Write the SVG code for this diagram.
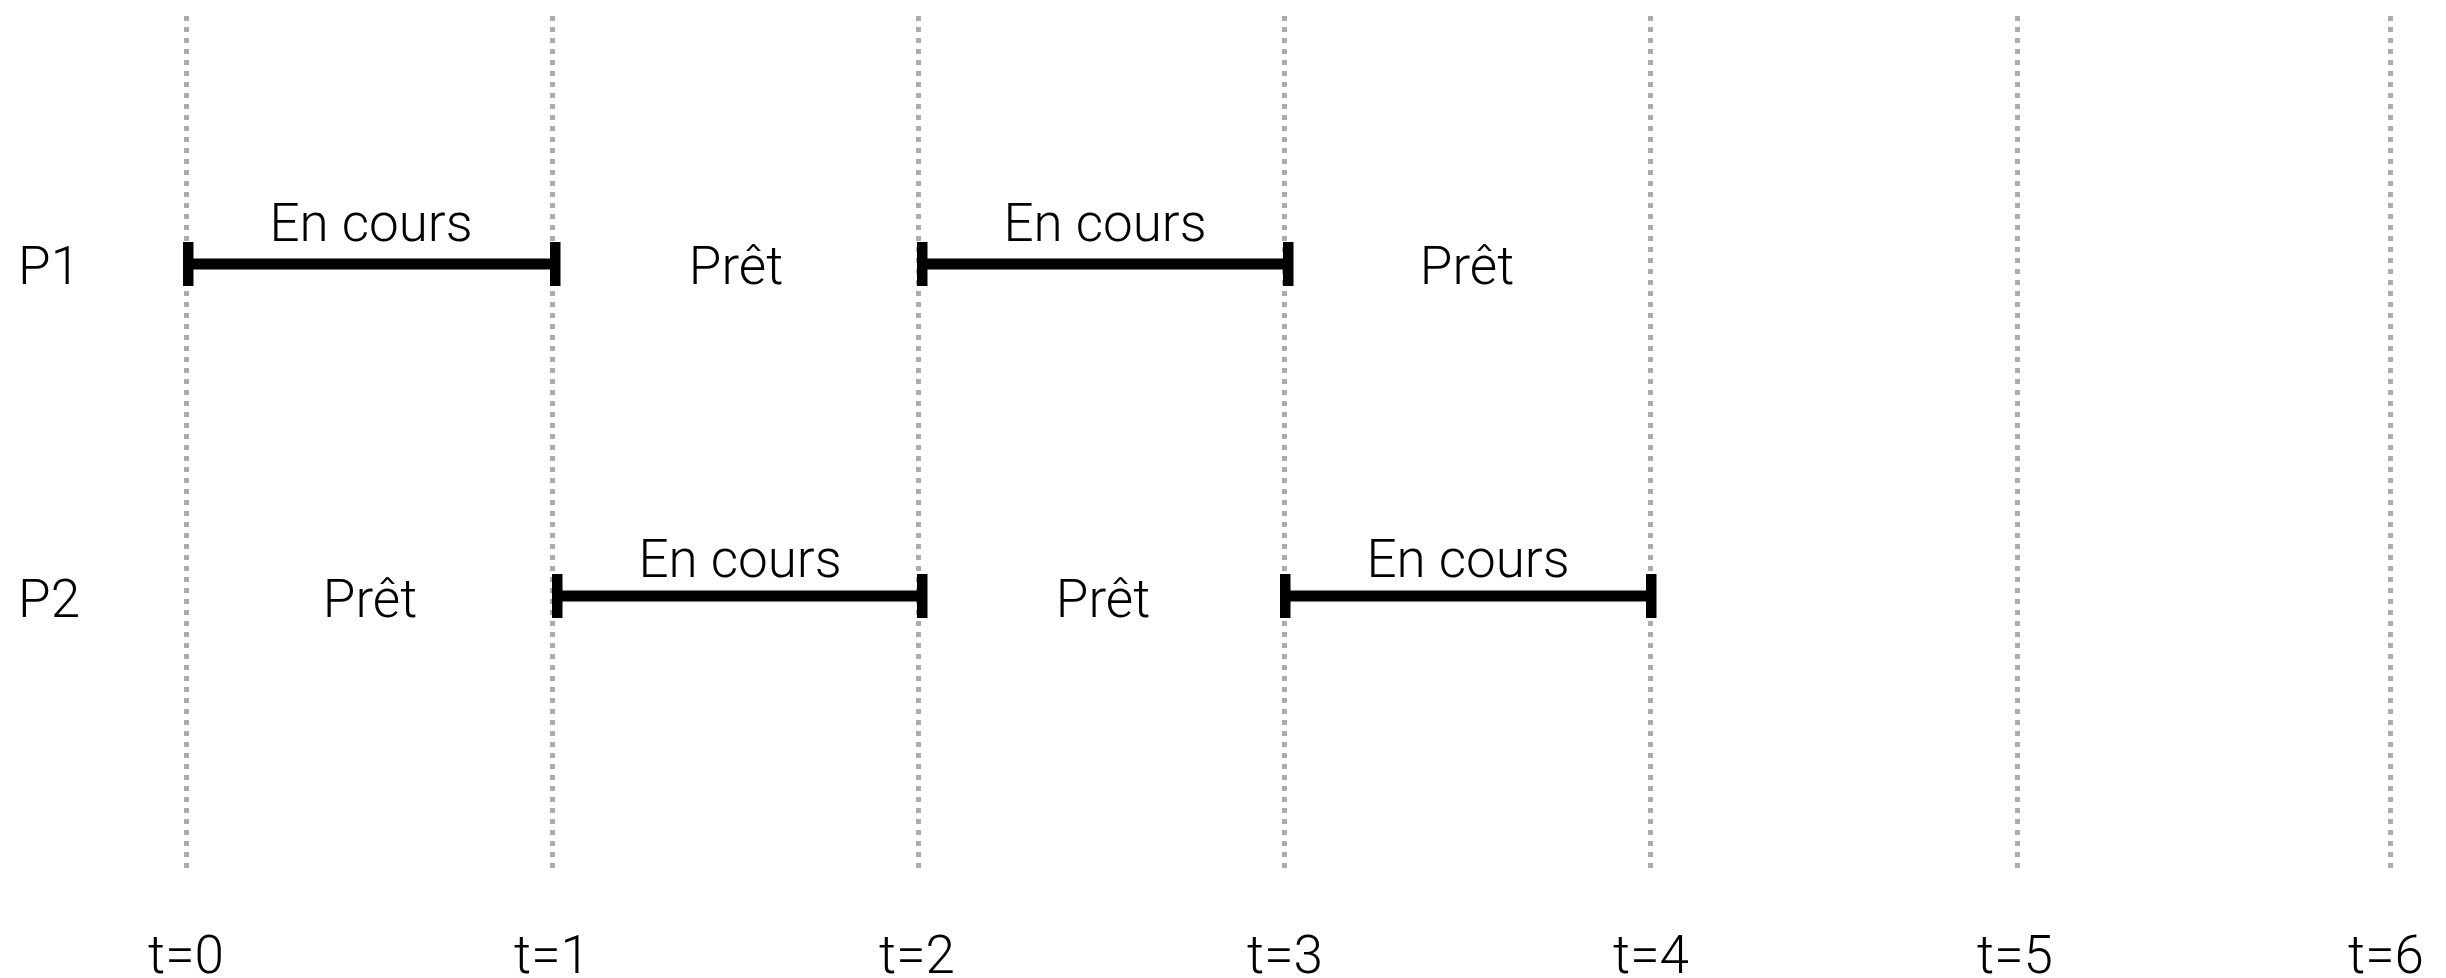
<svg xmlns="http://www.w3.org/2000/svg" width="2446" height="978" viewBox="0 0 2446 978">
<style>
.grid{stroke:#acacac;stroke-width:5;stroke-dasharray:5 6;fill:none}
.bar{stroke:#000;stroke-width:11;fill:none}
.tick{fill:#000}
text{font-family:Roboto,"Liberation Sans",sans-serif;font-weight:300;font-size:53px;fill:#000}
.c{text-anchor:middle}
</style>
<rect width="2446" height="978" fill="#fff"/>
<g id="grid">
<line class="grid" x1="186.5" y1="16" x2="186.5" y2="872"/>
<line class="grid" x1="552.5" y1="16" x2="552.5" y2="872"/>
<line class="grid" x1="918.5" y1="16" x2="918.5" y2="872"/>
<line class="grid" x1="1284.5" y1="16" x2="1284.5" y2="872"/>
<line class="grid" x1="1650.5" y1="16" x2="1650.5" y2="872"/>
<line class="grid" x1="2017.5" y1="16" x2="2017.5" y2="872"/>
<line class="grid" x1="2390.5" y1="16" x2="2390.5" y2="872"/>
</g>
<g id="connectors">
<g id="p1-run1"><line class="bar" x1="188" y1="264" x2="555" y2="264"/><rect class="tick" x="183" y="242" width="10.5" height="44"/><rect class="tick" x="550" y="242" width="10.5" height="44"/></g>
<g id="p1-run2"><line class="bar" x1="922" y1="264" x2="1288" y2="264"/><rect class="tick" x="917" y="242" width="10.5" height="44"/><rect class="tick" x="1283" y="242" width="10.5" height="44"/></g>
<g id="p2-run1"><line class="bar" x1="557" y1="596" x2="922" y2="596"/><rect class="tick" x="552" y="574" width="10.5" height="44"/><rect class="tick" x="917" y="574" width="10.5" height="44"/></g>
<g id="p2-run2"><line class="bar" x1="1285" y1="596" x2="1651" y2="596"/><rect class="tick" x="1280" y="574" width="10.5" height="44"/><rect class="tick" x="1646" y="574" width="10.5" height="44"/></g>
</g>
<g id="labels-p1">
<text x="18" y="284">P1</text>
<text class="c" x="371" y="241">En cours</text>
<text class="c" x="736" y="284">Prêt</text>
<text class="c" x="1105" y="241">En cours</text>
<text class="c" x="1467" y="284">Prêt</text>
</g>
<g id="labels-p2">
<text x="18" y="617">P2</text>
<text class="c" x="370" y="617">Prêt</text>
<text class="c" x="740" y="577">En cours</text>
<text class="c" x="1103" y="617">Prêt</text>
<text class="c" x="1468" y="577">En cours</text>
</g>
<g id="time-axis">
<text class="c" x="186" y="973">t=0</text>
<text class="c" x="552" y="973">t=1</text>
<text class="c" x="917" y="973">t=2</text>
<text class="c" x="1285" y="973">t=3</text>
<text class="c" x="1651" y="973">t=4</text>
<text class="c" x="2015" y="973">t=5</text>
<text class="c" x="2386" y="973">t=6</text>
</g>
</svg>
